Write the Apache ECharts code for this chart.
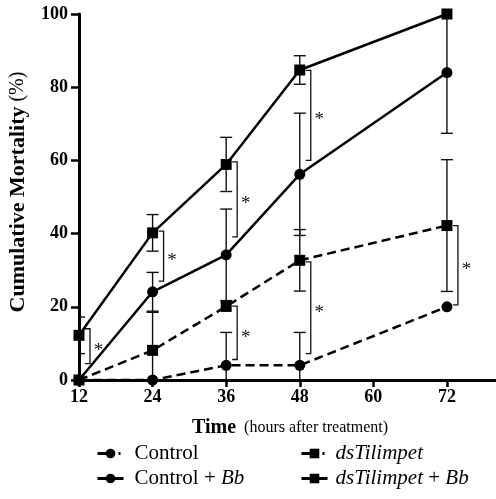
<!DOCTYPE html>
<html><head><meta charset="utf-8">
<script src="https://cdn.jsdelivr.net/npm/echarts@6/dist/echarts.min.js"></script>
<style>html,body{margin:0;padding:0;background:#fff}#c{width:496px;height:499px}</style>
</head><body><div id="c"></div>
<script>
const hours = [12, 24, 36, 48, 72];
const xTicks = [12, 24, 36, 48, 60, 72];
const control = [0, 0, 4, 4, 20];
const controlSD = [0, 0, 9, 9, 0];
const controlBb = [0, 24.1, 34.2, 56.2, 84];
const controlBbSD = [0, 5.3, 12.5, 16.7, 16.6];
const dsT = [0, 8.1, 20.1, 32.7, 42.2];
const dsTSD = [0, 10.4, 0, 8.4, 18];
const dsTBb = [12.2, 40.2, 58.9, 84.7, 100];
const dsTBbSD = [5, 5, 7.4, 3.9, 0];
// significance brackets: [hour, top value, bottom value]
const brackets = [[12, 14, 4.5], [24, 40.7, 27], [36, 59.6, 39.1], [36, 20.2, 5.6], [48, 84.6, 60], [48, 32.3, 7.2], [72, 42.2, 20.5]];

const SERIF = '"Liberation Serif", "Times New Roman", serif';
const ink = '#000';

function pts(v) { return hours.map((h, i) => [h, v[i]]); }
function errs(v, sd) {
  const out = [];
  hours.forEach((h, i) => { if (sd[i] > 0) out.push([h, v[i] - sd[i], v[i] + sd[i]]); });
  return out;
}
function errItem(params, api) {
  const x = api.value(0), lo = api.value(1), hi = api.value(2);
  const pl = api.coord([x, lo]), ph = api.coord([x, hi]);
  const hw = 6;
  const st = { stroke: '#111', lineWidth: 1.4, fill: null };
  return { type: 'group', children: [
    { type: 'line', shape: { x1: pl[0], y1: pl[1], x2: ph[0], y2: ph[1] }, style: st },
    { type: 'line', shape: { x1: pl[0] - hw, y1: pl[1], x2: pl[0] + hw, y2: pl[1] }, style: st },
    { type: 'line', shape: { x1: ph[0] - hw, y1: ph[1], x2: ph[0] + hw, y2: ph[1] }, style: st }
  ] };
}
function brItem(params, api) {
  const x = api.value(0), t = api.value(1), b = api.value(2);
  const pt = api.coord([x, t]), pb = api.coord([x, b]);
  const bx = pt[0] + 11, arm = 5;
  return { type: 'group', children: [
    { type: 'polyline', shape: { points: [[bx - arm, pt[1]], [bx, pt[1]], [bx, pb[1]], [bx - arm, pb[1]]] },
      style: { stroke: '#111', lineWidth: 1.3, fill: null } },
    { type: 'text', x: bx + 8.5, y: (pt[1] + pb[1]) / 2 + 5,
      style: { text: '*', fontFamily: SERIF, fontSize: 19, fill: '#111', align: 'center', verticalAlign: 'middle' } }
  ] };
}
function lineSeries(name, v, symbol, dashed) {
  return {
    name: name, type: 'line', data: pts(v), symbol: symbol, symbolSize: 11, clip: false, z: 5,
    itemStyle: { color: ink },
    lineStyle: { color: ink, width: 2.5, type: dashed ? [9, 5] : 'solid' }
  };
}
const labelRich = {
  n: { fontFamily: SERIF, fontSize: 21, color: ink },
  i: { fontFamily: SERIF, fontSize: 21, fontStyle: 'italic', color: ink }
};
function legendFmt(name) {
  if (name === 'Control') return '{n|Control}';
  if (name === 'Control + Bb') return '{n|Control + }{i|Bb}';
  if (name === 'dsTilimpet') return '{i|dsTilimpet}';
  return '{i|dsTilimpet}{n| + }{i|Bb}';
}
const dashIcon = { type: [14, 7, 2, 10], width: 3 };
const solidIcon = { type: 'solid', width: 3 };

const chart = echarts.init(document.getElementById('c'), null, { renderer: 'canvas' });
chart.setOption({
  animation: false,
  backgroundColor: '#fff',
  grid: { left: 79, right: 0, top: 14, bottom: 119, containLabel: false },
  xAxis: {
    type: 'value', min: 12, max: 80, interval: 12,
    splitLine: { show: false },
    axisLine: { lineStyle: { color: ink, width: 3 } },
    axisTick: { customValues: xTicks, length: 7, lineStyle: { color: ink, width: 2.5 } },
    axisLabel: { customValues: xTicks, margin: 8, color: ink, fontFamily: SERIF, fontWeight: 'bold', fontSize: 18 }
  },
  yAxis: {
    type: 'value', min: 0, max: 100, interval: 20,
    splitLine: { show: false },
    axisLine: { lineStyle: { color: ink, width: 3 } },
    axisTick: { length: 8, lineStyle: { color: ink, width: 2.5 } },
    axisLabel: { margin: 11, color: ink, fontFamily: SERIF, fontWeight: 'bold', fontSize: 18 }
  },
  legend: [
    { left: 91, top: 438, orient: 'vertical', itemWidth: 26, itemHeight: 12, itemGap: 4,
      data: [{ name: 'Control', lineStyle: dashIcon }, { name: 'Control + Bb', lineStyle: solidIcon }],
      formatter: legendFmt,
      textStyle: { padding: [0, 0, 0, 6], rich: labelRich } },
    { left: 295, top: 438, orient: 'vertical', itemWidth: 26, itemHeight: 12, itemGap: 4,
      data: [{ name: 'dsTilimpet', lineStyle: dashIcon }, { name: 'dsTilimpet + Bb', lineStyle: solidIcon }],
      formatter: legendFmt,
      textStyle: { padding: [0, 0, 0, 3], rich: labelRich } }
  ],
  graphic: [
    { type: 'text', x: 18, y: 192, rotation: Math.PI / 2,
      style: { text: '{b|Cumulative Mortality}{n| (%)}', align: 'center', verticalAlign: 'middle',
        rich: { b: { fontFamily: SERIF, fontSize: 22, fontWeight: 'bold', fill: ink },
                n: { fontFamily: SERIF, fontSize: 20, fill: ink } } } },
    { type: 'text', x: 290, y: 428,
      style: { text: '{b|Time}{n|  (hours after treatment)}', align: 'center', verticalAlign: 'middle',
        rich: { b: { fontFamily: SERIF, fontSize: 20, fontWeight: 'bold', fill: ink },
                n: { fontFamily: SERIF, fontSize: 16, fill: ink } } } }
  ],
  series: [
    { name: 'errControl', type: 'custom', renderItem: errItem, data: errs(control, controlSD), encode: { x: 0, y: [1, 2] }, clip: true, z: 3 },
    { name: 'errControlBb', type: 'custom', renderItem: errItem, data: errs(controlBb, controlBbSD), encode: { x: 0, y: [1, 2] }, clip: true, z: 3 },
    { name: 'errDsT', type: 'custom', renderItem: errItem, data: errs(dsT, dsTSD), encode: { x: 0, y: [1, 2] }, clip: true, z: 3 },
    { name: 'errDsTBb', type: 'custom', renderItem: errItem, data: errs(dsTBb, dsTBbSD), encode: { x: 0, y: [1, 2] }, clip: true, z: 3 },
    { name: 'brackets', type: 'custom', renderItem: brItem, data: brackets, encode: { x: 0, y: [1, 2] }, clip: false, z: 4 },
    lineSeries('Control', control, 'circle', true),
    lineSeries('Control + Bb', controlBb, 'circle', false),
    lineSeries('dsTilimpet', dsT, 'rect', true),
    lineSeries('dsTilimpet + Bb', dsTBb, 'rect', false)
  ]
});
</script>
</body></html>
